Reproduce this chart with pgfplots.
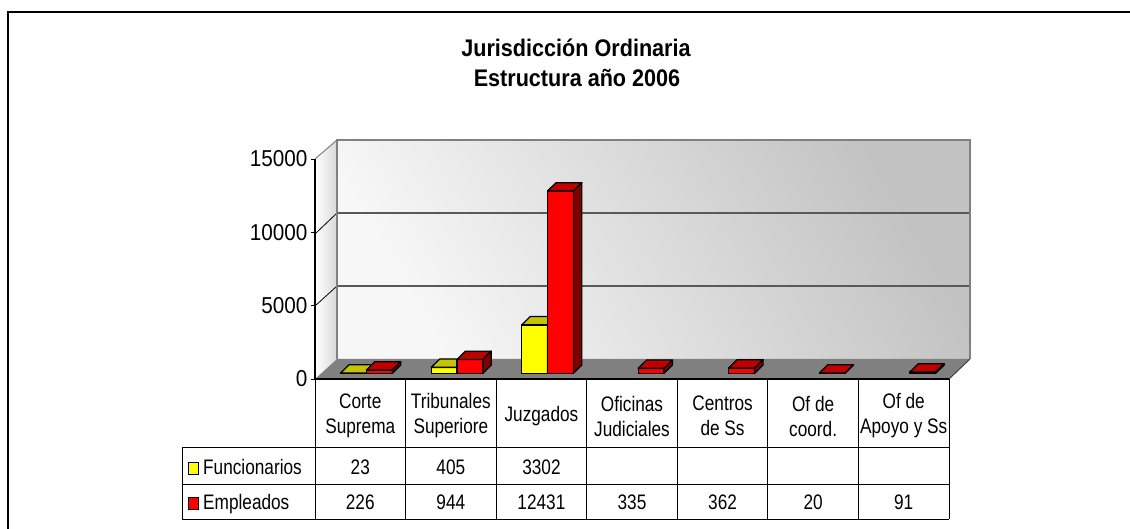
\documentclass[border=0pt]{standalone}
\usepackage{fontspec}
\setmainfont{Liberation Sans}
\newfontfamily\narrowfont{Liberation Sans}[FakeStretch=0.82]
\newfontfamily\tickfont{Liberation Sans}[FakeStretch=0.9]
\newfontfamily\titlefont{Liberation Sans}[FakeStretch=0.9]
\usepackage{pgfplots}
\usepackage{pgfplotstable}
\pgfplotsset{compat=1.18}

\definecolor{yfront}{HTML}{FFFF00}
\definecolor{ytop}{HTML}{C4C400}
\definecolor{yside}{HTML}{808000}
\definecolor{rfront}{HTML}{FF0000}
\definecolor{rtop}{HTML}{C00000}
\definecolor{rside}{HTML}{800000}
\definecolor{floorgray}{HTML}{808080}

\pgfdeclareplotmark{nothing}{}

% 3D box drawn at the data point (origin = top of bar at the front plane); \val = value
% the box stands 0.28 of the floor depth behind the front plane: shift (6.2bp, 5.7bp)
\newcommand\drawbox[4]{%
  \pgfmathsetmacro\bxh{\val/15000*220}%
  \pgfmathsetmacro\bxl{#1+6.2}%
  \pgfmathsetmacro\bxr{\bxl+25.8}%
  \pgfmathsetmacro\bxa{\bxl+8.4}%
  \pgfmathsetmacro\bxb{\bxr+8.4}%
  \pgfmathsetmacro\bxy{5.7-\bxh}%
  \pgfmathsetmacro\bxt{\bxy+8.3}%
  \filldraw[fill=#2, draw=black, line width=1.3bp, line join=round] (\bxl bp,\bxy bp) rectangle (\bxr bp,5.7bp);
  \filldraw[fill=#3, draw=black, line width=1.3bp, line join=round] (\bxl bp,5.7bp) -- (\bxr bp,5.7bp) -- (\bxb bp,14bp) -- (\bxa bp,14bp) -- cycle;
  \filldraw[fill=#4, draw=black, line width=1.3bp, line join=round] (\bxr bp,\bxy bp) -- (\bxb bp,\bxt bp) -- (\bxb bp,14bp) -- (\bxr bp,5.7bp) -- cycle;
}

\pgfplotstableread{
x fun
0 23
1 405
2 3302
}\funtable

\pgfplotstableread{
x emp
0 226
1 944
2 12431
3 335
4 362
5 20
6 91
}\emptable

\begin{document}
\begin{tikzpicture}[x=1bp,y=-1bp]
\useasboundingbox (0,0) rectangle (1130,529);
\fill[white] (0,0) rectangle (1130,529);
% outer frame
\draw[line width=2bp] (8,1000) -- (8,12.5) -- (1300,12.5);
% title
\node[anchor=base, font=\titlefont\bfseries\fontsize{24bp}{24bp}\selectfont] at (576,57) {Jurisdicción Ordinaria};
\node[anchor=base, font=\titlefont\bfseries\fontsize{24bp}{24bp}\selectfont] at (577,87) {Estructura año 2006};

% walls and floor
\shade[left color=white, right color=gray!30] (315,379) -- (315,159) -- (337,140) -- (337,359) -- cycle;
\shade[top color=gray!48, bottom color=gray!6, shading angle=-60] (337,140) rectangle (970,359);
\draw[gray!70!black, line width=1.2bp] (337,213) -- (970,213);
\draw[gray!70!black, line width=1.2bp] (337,286) -- (970,286);
\draw[black, line width=0.8bp] (315,234) -- (337,213);
\draw[black, line width=0.8bp] (315,306) -- (337,286);
\draw[gray, line width=1bp] (315,159) -- (337,140);
\draw[gray, line width=1.5bp] (337,359) -- (337,140) -- (970,140) -- (970,359);
\fill[floorgray] (315,379) -- (337,359) -- (970,359) -- (949,379) -- cycle;
\draw[black!75, line width=1bp] (949,379) -- (970,359);

\begin{axis}[
  at={(315bp,-379bp)}, anchor=south west,
  scale only axis, width=634bp, height=220bp,
  xmin=-0.5, xmax=6.5, ymin=0, ymax=15000,
  clip=false,
  axis lines*=left,
  x axis line style={black, line width=2.5bp},
  y axis line style={black, line width=1.2bp},
  tick align=outside,
  major tick length=4bp,
  xtick={0,...,6},
  xticklabels={{Corte\\Suprema},{Tribunales\\Superiore},{Juzgados},{Oficinas\\Judiciales},{Centros\\de Ss},{Of de\\coord.},{Of de\\Apoyo y Ss}},
  xtick style={draw=none},
  xticklabel style={anchor=center, yshift=-33bp, align=center, font=\narrowfont\fontsize{21bp}{25bp}\selectfont},
  ytick={0,5000,10000,15000},
  ytick style={black, line width=1bp},
  scaled y ticks=false,
  yticklabel style={anchor=east, font=\tickfont\fontsize{23bp}{23bp}\selectfont},
  /pgf/number format/.cd, 1000 sep={}, assume math mode=true,
]
\addplot[scatter, only marks, mark=nothing,
  visualization depends on={rawy \as \val},
  scatter/@pre marker code/.code={\drawbox{-25.8}{yfront}{ytop}{yside}},
  scatter/@post marker code/.code={}]
  table[x=x, y=fun] {\funtable};
\addplot[scatter, only marks, mark=nothing,
  visualization depends on={rawy \as \val},
  scatter/@pre marker code/.code={\drawbox{0}{rfront}{rtop}{rside}},
  scatter/@post marker code/.code={}]
  table[x=x, y=emp] {\emptable};
\end{axis}

% data table grid
\draw[black, line width=1bp] (182,447) -- (949,447);
\draw[black, line width=1bp] (182,484) -- (949,484);
\draw[black, line width=1bp] (182,519) -- (949,519);
\draw[black, line width=1bp] (182,447) -- (182,519);
\foreach \k in {0,...,7} {\draw[black, line width=1bp] ({315+\k*90.571},379) -- ({315+\k*90.571},519);}
% legend keys
\filldraw[fill=yfront, draw=black, line width=1bp] (188,462) rectangle (198,474);
\node[anchor=base west, inner sep=0pt, font=\narrowfont\fontsize{21bp}{25bp}\selectfont] at (203,474) {Funcionarios};
\filldraw[fill=rfront, draw=black, line width=1bp] (188,497) rectangle (198,509);
\node[anchor=base west, inner sep=0pt, font=\narrowfont\fontsize{21bp}{25bp}\selectfont] at (203,509) {Empleados};
% values
\pgfplotstableforeachcolumnelement{fun}\of\funtable\as\cell{%
  \node[anchor=base, inner sep=0pt, font=\narrowfont\fontsize{21bp}{25bp}\selectfont] at ({315+(\pgfplotstablerow+0.5)*90.571},474) {\cell};
}
\pgfplotstableforeachcolumnelement{emp}\of\emptable\as\cell{%
  \node[anchor=base, inner sep=0pt, font=\narrowfont\fontsize{21bp}{25bp}\selectfont] at ({315+(\pgfplotstablerow+0.5)*90.571},509) {\cell};
}
\end{tikzpicture}
\end{document}
